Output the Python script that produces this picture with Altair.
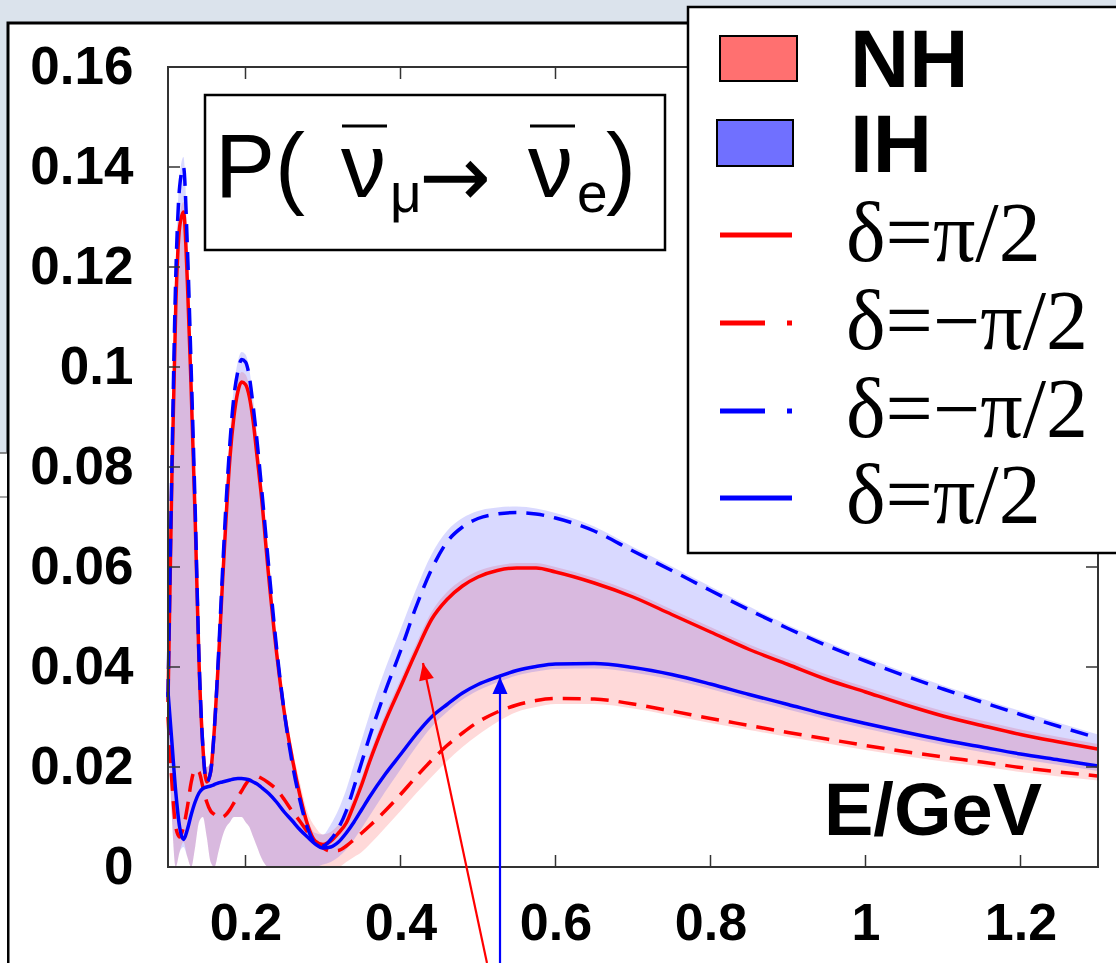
import altair as alt
import pandas as pd

# ---------------- data ----------------
E = [0.100, 0.105, 0.110, 0.115, 0.120, 0.125, 0.130, 0.135, 0.140, 0.145,
     0.150, 0.155, 0.160, 0.165, 0.170, 0.175, 0.180, 0.185, 0.190, 0.195,
     0.200, 0.205, 0.210, 0.215, 0.220, 0.230, 0.240, 0.250, 0.260, 0.270,
     0.280, 0.290, 0.300, 0.310, 0.320, 0.330, 0.340, 0.350, 0.360, 0.380,
     0.400, 0.420, 0.440, 0.460, 0.480, 0.500, 0.525, 0.550, 0.575, 0.600,
     0.650, 0.700, 0.750, 0.800, 0.850, 0.900, 0.950, 1.000, 1.050, 1.100,
     1.150, 1.200, 1.250, 1.300]

# NH, delta = +pi/2 (red solid)
nh_plus = [0.033, 0.078, 0.112, 0.128, 0.131, 0.117, 0.095, 0.070, 0.041, 0.024,
           0.017, 0.019, 0.028, 0.041, 0.056, 0.070, 0.082, 0.090, 0.095, 0.097,
           0.0965, 0.094, 0.089, 0.082, 0.075, 0.058, 0.043, 0.031, 0.022, 0.0145,
           0.0085, 0.0052, 0.0045, 0.0052, 0.0068, 0.0088, 0.0125, 0.0165, 0.021, 0.029,
           0.036, 0.043, 0.0495, 0.0535, 0.0562, 0.058, 0.0593, 0.0598, 0.0598, 0.059,
           0.0568, 0.054, 0.0505, 0.047, 0.0435, 0.0405, 0.0375, 0.035, 0.0325, 0.0302,
           0.0283, 0.0265, 0.025, 0.0236]
# NH, delta = -pi/2 (red dashed)
nh_minus = [0.030, 0.017, 0.008, 0.006, 0.008, 0.012, 0.017, 0.0195, 0.019, 0.016,
            0.013, 0.0112, 0.0105, 0.010, 0.010, 0.0105, 0.0115, 0.0128, 0.014, 0.0152,
            0.0165, 0.0175, 0.018, 0.0181, 0.0178, 0.0168, 0.0155, 0.0135, 0.0112, 0.0092,
            0.007, 0.005, 0.0038, 0.0032, 0.0033, 0.0042, 0.0055, 0.0068, 0.0082, 0.0112,
            0.0145, 0.018, 0.0213, 0.0243, 0.0268, 0.029, 0.031, 0.0324, 0.0333, 0.0337,
            0.0336, 0.0326, 0.0312, 0.0297, 0.0283, 0.0269, 0.0256, 0.0243, 0.0231, 0.022,
            0.021, 0.0199, 0.019, 0.0182]
# IH, delta = -pi/2 (blue dashed)
ih_minus = [0.034, 0.080, 0.118, 0.136, 0.140, 0.124, 0.099, 0.072, 0.042, 0.024,
            0.017, 0.019, 0.028, 0.042, 0.058, 0.073, 0.085, 0.094, 0.099, 0.1015,
            0.101, 0.098, 0.092, 0.085, 0.077, 0.060, 0.044, 0.031, 0.021, 0.0135,
            0.0078, 0.0048, 0.0042, 0.0055, 0.0078, 0.0112, 0.016, 0.021, 0.026, 0.035,
            0.0432, 0.052, 0.0595, 0.065, 0.068, 0.0697, 0.0706, 0.0709, 0.0706, 0.0698,
            0.0672, 0.0632, 0.0593, 0.0553, 0.0514, 0.0477, 0.0443, 0.0412, 0.0383, 0.0356,
            0.0330, 0.0305, 0.0281, 0.0258]
# IH, delta = +pi/2 (blue solid)
ih_plus = [0.035, 0.025, 0.015, 0.008, 0.0055, 0.0075, 0.0105, 0.013, 0.0148, 0.0157,
           0.016, 0.0162, 0.0165, 0.0168, 0.017, 0.0172, 0.0174, 0.0176, 0.0177, 0.0177,
           0.0176, 0.0174, 0.017, 0.0166, 0.016, 0.0147, 0.013, 0.011, 0.0093, 0.0075,
           0.006, 0.0046, 0.0038, 0.004, 0.005, 0.0068, 0.009, 0.0115, 0.014, 0.0185,
           0.0225, 0.0265, 0.030, 0.0325, 0.0348, 0.0365, 0.038, 0.0393, 0.0401, 0.0406,
           0.0407, 0.0399, 0.0385, 0.0366, 0.0345, 0.0325, 0.0305, 0.0287, 0.027, 0.0254,
           0.024, 0.0226, 0.0214, 0.0202]

# shaded bands (range over delta)
nh_hi = [0.035, 0.080, 0.114, 0.130, 0.133, 0.119, 0.097, 0.072, 0.043, 0.026,
         0.020, 0.021, 0.030, 0.043, 0.058, 0.072, 0.084, 0.092, 0.097, 0.099,
         0.0985, 0.096, 0.091, 0.084, 0.077, 0.060, 0.045, 0.033, 0.024, 0.017,
         0.011, 0.008, 0.0065, 0.007, 0.0085, 0.0105, 0.0140, 0.0180, 0.0225, 0.0305,
         0.0375, 0.0445, 0.0510, 0.0550, 0.0575, 0.0592, 0.0603, 0.0608, 0.0608, 0.0600,
         0.0578, 0.0550, 0.0515, 0.0480, 0.0445, 0.0415, 0.0385, 0.0360, 0.0335, 0.0312,
         0.0293, 0.0275, 0.0260, 0.0246]
nh_lo = [0.028, 0.010, 0.000, 0.003, 0.005, 0.002, 0.000, 0.004, 0.009, 0.010,
         0.006, 0.001, 0.000, 0.003, 0.006, 0.008, 0.009, 0.010, 0.010, 0.010,
         0.009, 0.008, 0.006, 0.004, 0.002, 0.000, 0.000, 0.000, 0.000, 0.000,
         0.000, 0.000, 0.000, 0.000, 0.000, 0.001, 0.002, 0.003, 0.0045, 0.0078,
         0.0112, 0.0147, 0.0180, 0.0212, 0.0240, 0.0264, 0.0290, 0.0310, 0.0320, 0.0326,
         0.0326, 0.0317, 0.0303, 0.0288, 0.0274, 0.0260, 0.0247, 0.0234, 0.0222, 0.0211,
         0.0201, 0.0190, 0.0181, 0.0173]
ih_hi = [0.036, 0.082, 0.120, 0.138, 0.142, 0.126, 0.101, 0.074, 0.044, 0.026,
         0.020, 0.021, 0.030, 0.044, 0.060, 0.075, 0.087, 0.096, 0.101, 0.103,
         0.1025, 0.0995, 0.0935, 0.0865, 0.0785, 0.0615, 0.0455, 0.0325, 0.0225, 0.0150,
         0.0095, 0.0068, 0.0065, 0.0085, 0.0115, 0.0155, 0.0205, 0.0255, 0.0305, 0.0395,
         0.0475, 0.0555, 0.0625, 0.0672, 0.0698, 0.0712, 0.0719, 0.0721, 0.0717, 0.0708,
         0.0681, 0.0640, 0.0601, 0.0561, 0.0521, 0.0484, 0.0450, 0.0419, 0.0390, 0.0363,
         0.0337, 0.0312, 0.0288, 0.0265]
ih_lo = [0.028, 0.010, 0.000, 0.003, 0.004, 0.002, 0.000, 0.004, 0.009, 0.010,
         0.006, 0.001, 0.000, 0.003, 0.006, 0.008, 0.009, 0.010, 0.010, 0.010,
         0.009, 0.008, 0.006, 0.004, 0.002, 0.000, 0.000, 0.000, 0.000, 0.000,
         0.000, 0.000, 0.0005, 0.001, 0.002, 0.0035, 0.0055, 0.0078, 0.0102, 0.0150,
         0.0195, 0.0240, 0.0280, 0.0310, 0.0335, 0.0353, 0.0369, 0.0383, 0.0391, 0.0396,
         0.0397, 0.0389, 0.0375, 0.0356, 0.0335, 0.0315, 0.0295, 0.0277, 0.0260, 0.0244,
         0.0230, 0.0216, 0.0204, 0.0192]

x_ticks = [0.2, 0.4, 0.6, 0.8, 1.0, 1.2]
y_ticks = [0, 0.02, 0.04, 0.06, 0.08, 0.1, 0.12, 0.14, 0.16]

# annotation arrows (tip and tail in data units)
arrow_red = {"E": [0.429], "P": [0.0408], "E2": [0.5116], "P2": [-0.0192]}
arrow_blue = {"E": [0.5284], "P": [0.038], "E2": [0.5284], "P2": [-0.0192]}

legend_labels = ["NH", "IH", "δ=π/2", "δ=−π/2", "δ=−π/2", "δ=π/2"]

# ---------------- layout ----------------
W, H = 930, 800
LEFT, TOP = 168, 67
FONT = "Liberation Sans"
SERIF = "Liberation Serif"

xscale = alt.Scale(domain=[0.1, 1.3], nice=False, zero=False)
yscale = alt.Scale(domain=[0, 0.16], nice=False, zero=False)
xaxis = alt.Axis(values=x_ticks, title="", ticks=False, tickSize=0, domain=False, grid=False,
                 format="~g",
                 labelFont=FONT, labelFontSize=52, labelFontWeight="bold", labelColor="black",
                 labelPadding=31, labelFlush=False, labelOverlap=False, zindex=1)
yaxis = alt.Axis(values=y_ticks, title="", ticks=False, tickSize=0, domain=False, grid=False,
                 format="~g",
                 labelFont=FONT, labelFontSize=53, labelFontWeight="bold", labelColor="black",
                 labelPadding=35, labelFlush=False, labelOverlap=False, zindex=1)


def X(f="E"):
    return alt.X(f"{f}:Q", scale=xscale, axis=xaxis)


def Y(f="P"):
    return alt.Y(f"{f}:Q", scale=yscale, axis=yaxis)


one = pd.DataFrame({"k": [0]})


def px(v):
    return alt.value(v - LEFT)


def py(v):
    return alt.value(v - TOP)


layers = []

# slide background frame
layers.append(alt.Chart(one).mark_rect(fill="white", stroke="black", strokeWidth=3).encode(
    x=px(8), x2=px(1140), y=py(23), y2=py(990)))
layers.append(alt.Chart(one).mark_rect(fill="white").encode(
    x=px(0), x2=px(7), y=py(453), y2=py(963)))
layers.append(alt.Chart(one).mark_rule(color="#666", strokeWidth=1.5).encode(
    x=px(0), x2=px(7), y=py(453)))
layers.append(alt.Chart(one).mark_rule(color="#888", strokeWidth=1.5).encode(
    x=px(0), x2=px(7), y=py(497)))

# bands
df_nh = pd.DataFrame({"E": E, "lo": nh_lo, "hi": nh_hi})
df_ih = pd.DataFrame({"E": E, "lo": ih_lo, "hi": ih_hi})
layers.append(alt.Chart(df_nh).mark_area(color="#ff2020", opacity=0.17, interpolate="monotone").encode(
    x=X(), y=Y("lo"), y2="hi:Q"))
layers.append(alt.Chart(df_ih).mark_area(color="#2020ff", opacity=0.17, interpolate="monotone").encode(
    x=X(), y=Y("lo"), y2="hi:Q"))

# curves
curves = [
    (nh_plus, "#ff0000", None),
    (nh_minus, "#ff0000", [18, 10]),
    (ih_minus, "#0000ff", [18, 10]),
    (ih_plus, "#0000ff", None),
]
for vals, col, dash in curves:
    d = pd.DataFrame({"E": E, "P": vals})
    kw = dict(color=col, strokeWidth=3.5, interpolate="monotone")
    if dash:
        kw["strokeDash"] = dash
    layers.append(alt.Chart(d).mark_line(**kw).encode(x=X(), y=Y()))

# inward ticks on all four sides
dxt = pd.DataFrame({"E": x_ticks})
dyt = pd.DataFrame({"P": y_ticks})
layers.append(alt.Chart(dxt).mark_rule(color="#333", strokeWidth=1.5).encode(
    x=X(), y=alt.value(H), y2=alt.value(H - 12)))
layers.append(alt.Chart(dxt).mark_rule(color="#333", strokeWidth=1.5).encode(
    x=X(), y=alt.value(0), y2=alt.value(12)))
layers.append(alt.Chart(dyt).mark_rule(color="#333", strokeWidth=1.5).encode(
    y=Y(), x=alt.value(0), x2=alt.value(12)))
layers.append(alt.Chart(dyt).mark_rule(color="#333", strokeWidth=1.5).encode(
    y=Y(), x=alt.value(W), x2=alt.value(W - 12)))

# plot border
layers.append(alt.Chart(one).mark_rect(fillOpacity=0, stroke="#333", strokeWidth=2).encode(
    x=alt.value(0), x2=alt.value(W), y=alt.value(0), y2=alt.value(H)))

# arrows
head = "M0,0L-0.75,1.7L0.75,1.7Z"
for arr, col, ang in [(arrow_red, "#ff0000", 348), (arrow_blue, "#0000ff", 0)]:
    d = pd.DataFrame(arr)
    layers.append(alt.Chart(d).mark_rule(color=col, strokeWidth=2.2).encode(
        x=X(), y=Y(), x2="E2:Q", y2="P2:Q"))
    layers.append(alt.Chart(d).mark_point(shape=head, filled=True, size=400, angle=ang,
                                          color=col, opacity=1).encode(x=X(), y=Y()))

# title box
layers.append(alt.Chart(one).mark_rect(fill="white", stroke="black", strokeWidth=2.5).encode(
    x=px(205), x2=px(665), y=py(95), y2=py(250)))


def text(t, x, y, size, font=FONT, weight="normal", color="black"):
    return alt.Chart(one).mark_text(text=t, font=font, fontSize=size, fontWeight=weight,
                                    color=color, align="left", baseline="alphabetic").encode(
        x=px(x), y=py(y))


layers.append(text("P(", 215, 197, 90))
layers.append(text("ν", 341, 197, 90))
layers.append(text("μ", 390, 212, 55))
layers.append(text("→", 419, 206, 86, font="DejaVu Sans"))
layers.append(text("ν", 528, 197, 90))
layers.append(text("e", 577, 212, 55))
layers.append(text(")", 606, 197, 90))
for x1, x2 in [(342, 387), (530, 575)]:
    layers.append(alt.Chart(one).mark_rule(color="black", strokeWidth=3).encode(
        x=px(x1), x2=px(x2), y=py(126)))

# legend box
layers.append(alt.Chart(one).mark_rect(fill="white", stroke="black", strokeWidth=2.5).encode(
    x=px(688), x2=px(1140), y=py(7), y2=py(553)))
layers.append(alt.Chart(one).mark_rect(fill="#ff7070", stroke="black", strokeWidth=2).encode(
    x=px(720), x2=px(797), y=py(36), y2=py(81)))
layers.append(alt.Chart(one).mark_rect(fill="#7070ff", stroke="black", strokeWidth=2).encode(
    x=px(717), x2=px(793), y=py(120), y2=py(166)))
layers.append(text(legend_labels[0], 850, 87, 82, weight="bold"))
layers.append(text(legend_labels[1], 850, 172, 82, weight="bold"))
rows = [(235, "#ff0000", None, 261), (323, "#ff0000", [45, 22], 349),
        (411, "#0000ff", [45, 22], 437), (498, "#0000ff", None, 523)]
for i, (yy, col, dash, base) in enumerate(rows):
    kw = dict(color=col, strokeWidth=5)
    if dash:
        kw["strokeDash"] = dash
    layers.append(alt.Chart(one).mark_rule(**kw).encode(x=px(720), x2=px(792), y=py(yy)))
    layers.append(text(legend_labels[2 + i], 846, base, 84, font=SERIF))

# x-axis label text
layers.append(text("E/GeV", 824, 835, 74, weight="bold"))

chart = alt.layer(*layers).properties(
    width=W, height=H,
    padding={"left": LEFT, "top": TOP, "right": 1116 - LEFT - W, "bottom": 963 - TOP - H},
    autosize=alt.AutoSizeParams(type="none"),
).configure(background="#dbe3ec").configure_view(strokeWidth=0)

chart.save("out.html", embed_options={"renderer": "svg", "actions": False})
